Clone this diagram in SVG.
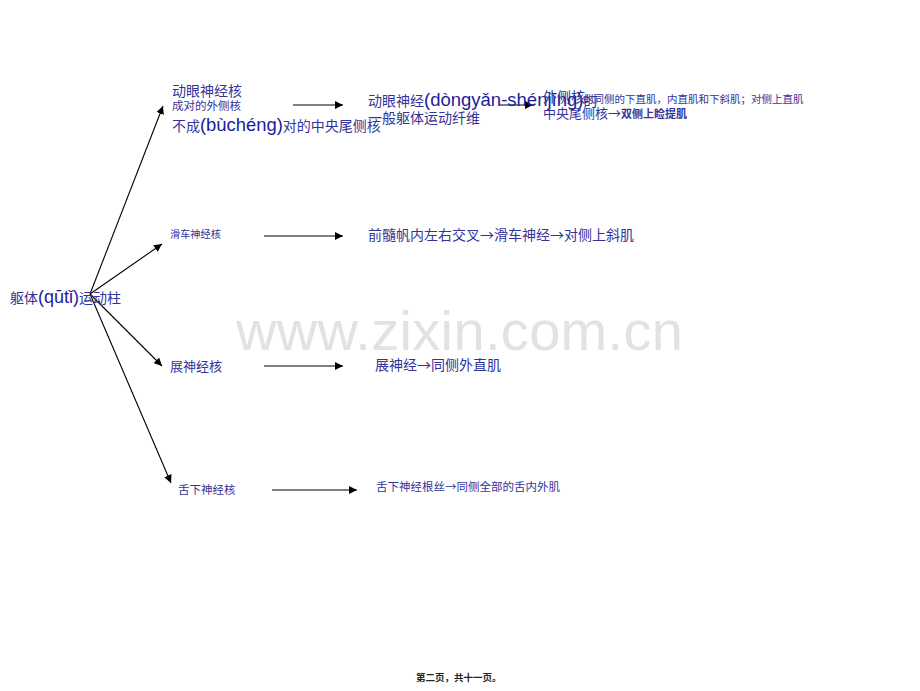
<svg xmlns="http://www.w3.org/2000/svg" width="920" height="691" viewBox="0 0 920 691">
<defs>
<style>
.t{font-family:"Noto Sans CJK SC","Liberation Sans",sans-serif;fill:#33339a;}
.p{font-family:"Liberation Sans",Arial,sans-serif;fill:#1c1c99;}
.c line{stroke:#000;stroke-width:1.1;fill:none;}
.wm{font-family:"Liberation Sans",Arial,sans-serif;fill:#e2e2e2;font-size:56px;}
</style>
<marker id="ah" viewBox="0 0 10 10" refX="10" refY="5" markerWidth="8" markerHeight="8" markerUnits="userSpaceOnUse" orient="auto">
<path d="M0,0 L10,5 L0,10 z" fill="#000"/>
</marker>
</defs>
<rect width="920" height="691" fill="#fff"/>
<text class="wm" x="236" y="350" textLength="447">www.zixin.com.cn</text>
<g class="c">
<line x1="90" y1="294" x2="163" y2="106" marker-end="url(#ah)"/>
<line x1="90" y1="294" x2="162" y2="244" marker-end="url(#ah)"/>
<line x1="90" y1="294" x2="162" y2="366" marker-end="url(#ah)"/>
<line x1="90" y1="294" x2="171" y2="483" marker-end="url(#ah)"/>
<line x1="293" y1="105" x2="343" y2="105" marker-end="url(#ah)"/>
<line x1="264" y1="236" x2="343" y2="236" marker-end="url(#ah)"/>
<line x1="264" y1="366" x2="343" y2="366" marker-end="url(#ah)"/>
<line x1="272" y1="490" x2="357" y2="490" marker-end="url(#ah)"/>
<line x1="500" y1="105" x2="533" y2="105" marker-end="url(#ah)"/>
</g>
<g id="root">
<text class="t" x="10" y="303" font-size="14">躯体<tspan class="p" font-size="18">(qūtǐ)</tspan>运动柱</text>
</g>
<g id="n1">
<text class="t" x="172" y="96" font-size="14">动眼神经核</text>
<text class="t" x="172" y="110" font-size="11.5">成对的外侧核</text>
<text class="t" x="172" y="131" font-size="14">不成<tspan class="p" font-size="18.4">(bùchéng)</tspan>对的中央尾侧核</text>
</g>
<g id="r1">
<text class="t" x="368" y="106" font-size="14">动眼神经<tspan class="p" font-size="18.5">(dòngyǎn-shénjīng)</tspan>的</text>
<text class="t" x="368" y="123" font-size="14">一般躯体运动纤维</text>
<text class="t" x="543" y="102" font-size="14">外侧核</text>
<text class="t" x="583" y="103" font-size="10.5">的同侧的下直肌，内直肌和下斜肌；对侧上直肌</text>
<text class="t" x="543" y="118" font-size="13">中央尾侧核→<tspan font-size="11" font-weight="bold">双侧上睑提肌</tspan></text>
</g>
<g id="n2">
<text class="t" x="170" y="238" font-size="10.2">滑车神经核</text>
</g>
<g id="r2">
<text class="t" x="368" y="240" font-size="14">前髓帆内左右交叉→滑车神经→对侧上斜肌</text>
</g>
<g id="n3">
<text class="t" x="170" y="371" font-size="13">展神经核</text>
</g>
<g id="r3">
<text class="t" x="375" y="370" font-size="14">展神经→同侧外直肌</text>
</g>
<g id="n4">
<text class="t" x="178" y="494" font-size="11.5">舌下神经核</text>
</g>
<g id="r4">
<text class="t" x="376" y="491" font-size="11.5">舌下神经根丝→同侧全部的舌内外肌</text>
</g>
<text x="416" y="681" font-size="9.5" font-weight="bold" fill="#222" font-family="Noto Sans CJK SC,sans-serif">第二页，共十一页。</text>
</svg>
